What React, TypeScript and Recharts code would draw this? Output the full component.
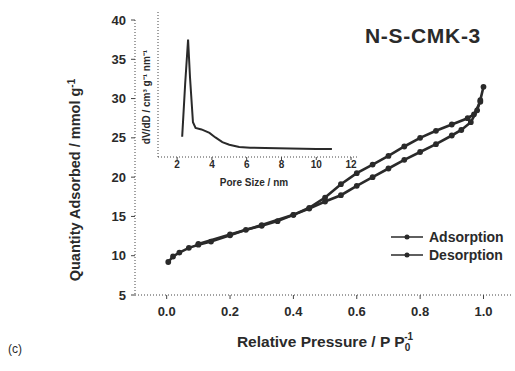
import React from "react";
import { LineChart, Line, XAxis, YAxis } from "recharts";

// N2 isotherm, adsorption branch (P/P0, mmol/g)
const adsorptionP = [0.005, 0.02, 0.04, 0.07, 0.1, 0.14, 0.2, 0.25, 0.3, 0.35, 0.4, 0.45, 0.5, 0.55, 0.6, 0.65, 0.7, 0.75, 0.8, 0.85, 0.9, 0.93, 0.96, 0.98, 0.99, 1.0];
const adsorptionQ = [9.2, 9.9, 10.4, 11.0, 11.4, 11.8, 12.6, 13.3, 13.8, 14.4, 15.2, 16.0, 16.9, 17.7, 18.9, 20.0, 21.1, 22.2, 23.2, 24.2, 25.3, 26.0, 27.0, 28.5, 29.8, 31.5];

// desorption branch
const desorptionP = [0.99, 0.97, 0.95, 0.9, 0.85, 0.8, 0.75, 0.7, 0.65, 0.6, 0.55, 0.5, 0.45, 0.4, 0.3, 0.2, 0.1];
const desorptionQ = [29.6, 28.0, 27.5, 26.7, 25.9, 25.0, 23.9, 22.7, 21.6, 20.5, 19.1, 17.4, 16.1, 15.2, 13.9, 12.7, 11.5];

// pore size distribution (nm, dV/dD)
const poreSize = [2.29, 2.46, 2.63, 2.74, 2.91, 3.06, 3.4, 3.86, 4.2, 4.6, 5.0, 5.57, 6.2, 7.06, 8.5, 10.0, 10.9];
const poreVolume = [0.14, 0.5, 0.81, 0.55, 0.24, 0.2, 0.19, 0.166, 0.135, 0.103, 0.085, 0.069, 0.064, 0.062, 0.058, 0.056, 0.055];

const pressureTicks = [0, 0.2, 0.4, 0.6, 0.8, 1.0];
const quantityTicks = [5, 10, 15, 20, 25, 30, 35, 40];
const poreTicks = [2, 4, 6, 8, 10, 12];

const adsorptionRows = adsorptionP.map((p, i) => ({ p, q: adsorptionQ[i] }));
const desorptionRows = desorptionP.map((p, i) => ({ p, q: desorptionQ[i] }));
const poreRows = poreSize.map((d, i) => ({ d, v: poreVolume[i] }));

const FONT = "'Liberation Sans', Arial, sans-serif";
const INK = "#2a2a2a";
const AXIS = { stroke: "#444", strokeDasharray: "1 2" };

const QuantityTitle = () => (
  <text
    x={80}
    y={180}
    transform="rotate(-90 80 180)"
    textAnchor="middle"
    fontFamily={FONT}
    fontWeight="bold"
    fontSize={14.5}
    fill={INK}
  >
    Quantity Adsorbed / mmol g<tspan dy={-5} fontSize={10}>-1</tspan>
  </text>
);

const PressureTitle = () => (
  <text
    x={325}
    y={347}
    textAnchor="middle"
    fontFamily={FONT}
    fontWeight="bold"
    fontSize={15.5}
    fill={INK}
  >
    Relative Pressure / P P<tspan dy={4} fontSize={10}>0</tspan>
    <tspan dy={-11} dx={-6} fontSize={10}>-1</tspan>
  </text>
);

const PoreTitle = () => (
  <text x={156} y={186} textAnchor="middle" fontFamily={FONT} fontWeight="bold" fontSize={10} fill={INK}>
    Pore Size / nm
  </text>
);

const PoreYTitle = () => (
  <text
    x={52}
    y={97}
    transform="rotate(-90 52 97)"
    textAnchor="middle"
    fontFamily={FONT}
    fontWeight="bold"
    fontSize={10}
    fill={INK}
  >
    dV/dD / cm³ g⁻¹ nm⁻¹
  </text>
);

const LegendRow = ({ label }: { label: string }) => (
  <div style={{ display: "flex", alignItems: "center", height: 18 }}>
    <svg width={34} height={10}>
      <line x1={1} y1={5} x2={33} y2={5} stroke={INK} strokeWidth={1.5} />
      <circle cx={17} cy={5} r={2.5} fill={INK} />
    </svg>
    <span style={{ marginLeft: 5 }}>{label}</span>
  </div>
);

export default function App() {
  return (
    <div
      style={{
        position: "absolute",
        left: 0,
        top: 0,
        width: 515,
        height: 371,
        background: "#fff",
        fontFamily: FONT,
        fontWeight: "bold",
        color: INK,
        overflow: "hidden",
      }}
    >
      <LineChart
        width={515}
        height={371}
        margin={{ top: 20, right: 3, bottom: 0, left: 0 }}
        style={{ position: "absolute", left: 0, top: 0 }}
      >
        <XAxis
          type="number"
          dataKey="p"
          domain={[-0.1, 1.09]}
          ticks={pressureTicks}
          tickFormatter={(v: number) => v.toFixed(1)}
          allowDataOverflow
          height={76}
          axisLine={AXIS}
          tickLine={{ stroke: "#444" }}
          tickSize={4}
          tickMargin={8}
          tick={{ fontSize: 13, fontFamily: FONT, fontWeight: "bold", fill: INK }}
          label={<PressureTitle />}
        />
        <YAxis
          type="number"
          domain={[5, 40]}
          ticks={quantityTicks}
          allowDataOverflow
          width={135}
          axisLine={AXIS}
          tickLine={{ stroke: "#444" }}
          tickSize={4}
          tickMargin={5}
          tick={{ fontSize: 13, fontFamily: FONT, fontWeight: "bold", fill: INK }}
          label={<QuantityTitle />}
        />
        <Line
          data={adsorptionRows}
          dataKey="q"
          name="Adsorption"
          stroke={INK}
          strokeWidth={2.6}
          dot={{ r: 1.6, fill: INK, stroke: INK }}
          isAnimationActive={false}
        />
        <Line
          data={desorptionRows}
          dataKey="q"
          name="Desorption"
          stroke={INK}
          strokeWidth={2.6}
          dot={{ r: 1.6, fill: INK, stroke: INK }}
          isAnimationActive={false}
        />
      </LineChart>

      {/* inset: pore size distribution */}
      <LineChart
        width={260}
        height={195}
        margin={{ top: 12, right: 0, bottom: 0, left: 0 }}
        style={{ position: "absolute", left: 98, top: 0 }}
      >
        <XAxis
          type="number"
          dataKey="d"
          domain={[0.9, 12.4]}
          ticks={poreTicks}
          allowDataOverflow
          height={38}
          axisLine={AXIS}
          tickLine={{ stroke: "#444" }}
          tickSize={3}
          tickMargin={1}
          tick={{ fontSize: 10, fontFamily: FONT, fontWeight: "bold", fill: INK }}
          label={<PoreTitle />}
        />
        <YAxis
          type="number"
          domain={[0, 1]}
          width={60}
          axisLine={AXIS}
          tick={false}
          tickLine={false}
          label={<PoreYTitle />}
        />
        <Line
          data={poreRows}
          dataKey="v"
          stroke={INK}
          strokeWidth={2}
          dot={false}
          isAnimationActive={false}
        />
      </LineChart>

      <div style={{ position: "absolute", left: 365, top: 24, fontSize: 21, letterSpacing: 0.7 }}>N-S-CMK-3</div>

      <div style={{ position: "absolute", left: 390, top: 228, fontSize: 14 }}>
        <LegendRow label="Adsorption" />
        <LegendRow label="Desorption" />
      </div>

      <div style={{ position: "absolute", left: 8, top: 342, fontSize: 12, fontWeight: "normal" }}>(c)</div>
    </div>
  );
}
